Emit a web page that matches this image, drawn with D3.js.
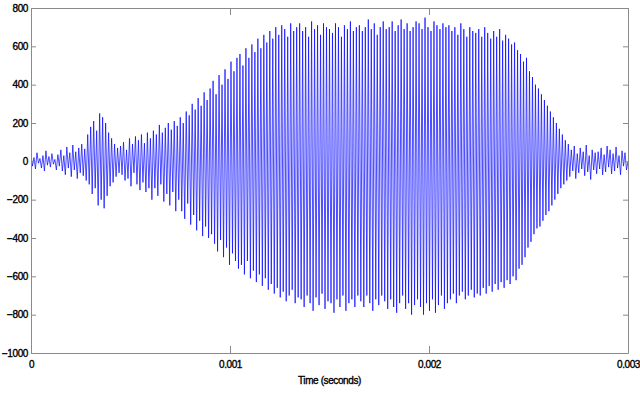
<!DOCTYPE html>
<html>
<head>
<meta charset="utf-8">
<script src="https://cdn.jsdelivr.net/npm/d3@7"></script>
<style>
  body { margin: 0; background: #fff; }
  svg { display: block; }
  .axis text, .label { font-family: "Liberation Sans", Arial, sans-serif; font-size: 10px; letter-spacing: -0.4px; fill: #000; stroke: #000; stroke-width: 0.35px; }
  .axis path, .axis line { stroke: #8a8a8a; }
</style>
</head>
<body>
<div id="chart"></div>
<script>
// Time axis and amplitude ticks
const xTicks = [0, 0.001, 0.002, 0.003];
const yTicks = [-1000, -800, -600, -400, -200, 0, 200, 400, 600, 800];
const duration = 0.003;

// Upper peak of each oscillation (10 per row, left to right)
const peaks = [
  35, 20, 45, 15, 30, 55, 25, 40, 10, 35,
  60, 30, 75, 45, 85, 50, 70, 90, 65, 140,
  180, 210, 160, 250, 230, 200, 150, 120, 90, 70,
  80, 100, 60, 120, 90, 130, 110, 140, 95, 150,
  120, 160, 140, 190, 150, 175, 200, 165, 210, 185,
  230, 200, 260, 240, 300, 270, 330, 290, 360, 320,
  380, 420, 350, 450, 400, 480, 430, 520, 470, 540,
  560, 500, 590, 540, 610, 570, 640, 590, 660, 620,
  680, 640, 700, 660, 710, 690, 650, 720, 680, 700,
  720, 680, 700, 650, 730, 690, 710, 660, 720, 700,
  690, 670, 720, 700, 650, 710, 690, 730, 680, 700,
  710, 680, 700, 740, 690, 720, 660, 700, 730, 690,
  700, 730, 680, 710, 740, 690, 720, 680, 700, 730,
  720, 690, 750, 700, 680, 730, 710, 690, 720, 700,
  710, 680, 700, 660, 720, 690, 650, 700, 680, 670,
  690, 650, 700, 670, 640, 680, 650, 690, 630, 660,
  640, 610, 620, 580, 560, 520, 540, 470, 440, 400,
  380, 350, 320, 290, 260, 230, 200, 170, 140, 110,
  90, 60, 80, 40, 70, 50, 85, 30, 60, 45,
  50, 70, 35, 80, 60, 40, 75, 30, 55, 45
];

// Lower peak of each oscillation
const troughs = [
  -25, -40, -10, -35, -50, -20, -30, -15, -45, -25,
  -50, -70, -35, -80, -45, -90, -60, -75, -100, -120,
  -170, -140, -230, -200, -245, -180, -130, -110, -80, -60,
  -70, -100, -90, -130, -60, -120, -150, -110, -160, -140,
  -200, -140, -180, -120, -210, -170, -230, -160, -260, -200,
  -260, -300, -220, -330, -280, -360, -310, -390, -340, -400,
  -380, -430, -470, -410, -500, -450, -540, -480, -520, -560,
  -540, -590, -520, -610, -570, -630, -590, -650, -610, -670,
  -640, -690, -660, -710, -680, -730, -700, -670, -740, -710,
  -720, -760, -700, -740, -780, -710, -750, -690, -770, -730,
  -740, -790, -720, -760, -700, -780, -740, -720, -760, -700,
  -730, -760, -700, -740, -780, -720, -750, -700, -730, -770,
  -720, -760, -790, -740, -700, -770, -740, -800, -750, -720,
  -760, -800, -740, -780, -720, -790, -750, -700, -770, -740,
  -720, -690, -740, -700, -680, -720, -700, -670, -710, -690,
  -700, -660, -690, -650, -680, -640, -670, -630, -660, -620,
  -640, -600, -620, -560, -540, -500, -450, -420, -380, -350,
  -340, -310, -280, -260, -230, -200, -170, -140, -120, -100,
  -80, -50, -90, -60, -40, -75, -55, -95, -45, -65,
  -40, -70, -55, -30, -65, -50, -35, -70, -25, -45
];

const width = 640, height = 393;
const margin = { top: 8, right: 12, bottom: 40, left: 31 };

const svg = d3.select('#chart').append('svg')
  .attr('width', width)
  .attr('height', height);

const x = d3.scaleLinear()
  .domain([0, duration])
  .range([margin.left, width - margin.right]);

const y = d3.scaleLinear()
  .domain([-1000, 800])
  .range([height - margin.bottom, margin.top]);

// one cycle per peak/trough pair, sampled evenly over the record
const period = duration / peaks.length;
const samples = [];
peaks.forEach((p, i) => {
  samples.push({ t: i * period, v: p });
  samples.push({ t: (i + 0.5) * period, v: troughs[i] });
});
samples.push({ t: duration, v: 0 });

svg.append('clipPath').attr('id', 'clip')
  .append('rect')
  .attr('x', margin.left)
  .attr('y', margin.top)
  .attr('width', width - margin.left - margin.right)
  .attr('height', height - margin.top - margin.bottom);

const line = d3.line()
  .x(d => x(d.t))
  .y(d => y(d.v));

svg.append('path')
  .datum(samples)
  .attr('clip-path', 'url(#clip)')
  .attr('fill', 'none')
  .attr('stroke', '#0000ff')
  .attr('stroke-width', 0.7)
  .attr('d', line);

// Axes, MATLAB style: box with inward ticks
const fmt = d => d === 0 ? '0' : d3.format('')(d);

svg.append('g')
  .attr('class', 'axis')
  .attr('transform', `translate(0,${height - margin.bottom})`)
  .call(d3.axisBottom(x).tickValues(xTicks).tickFormat(fmt).tickSizeInner(-7).tickSizeOuter(0).tickPadding(8));

svg.append('g')
  .attr('class', 'axis')
  .attr('transform', `translate(0,${margin.top})`)
  .call(d3.axisTop(x).tickValues(xTicks).tickFormat('').tickSizeInner(-7).tickSizeOuter(0));

svg.append('g')
  .attr('class', 'axis')
  .attr('transform', `translate(${margin.left},0)`)
  .call(d3.axisLeft(y).tickValues(yTicks).tickFormat(fmt).tickSizeInner(-5).tickSizeOuter(0).tickPadding(3));

svg.append('g')
  .attr('class', 'axis')
  .attr('transform', `translate(${width - margin.right},0)`)
  .call(d3.axisRight(y).tickValues(yTicks).tickFormat('').tickSizeInner(-5).tickSizeOuter(0));

svg.selectAll('.axis .domain').attr('stroke', '#8a8a8a');

// X label
svg.append('text')
  .attr('class', 'label')
  .attr('x', (margin.left + width - margin.right) / 2)
  .attr('y', 384)
  .attr('text-anchor', 'middle')
  .text('Time (seconds)');
</script>
</body>
</html>
